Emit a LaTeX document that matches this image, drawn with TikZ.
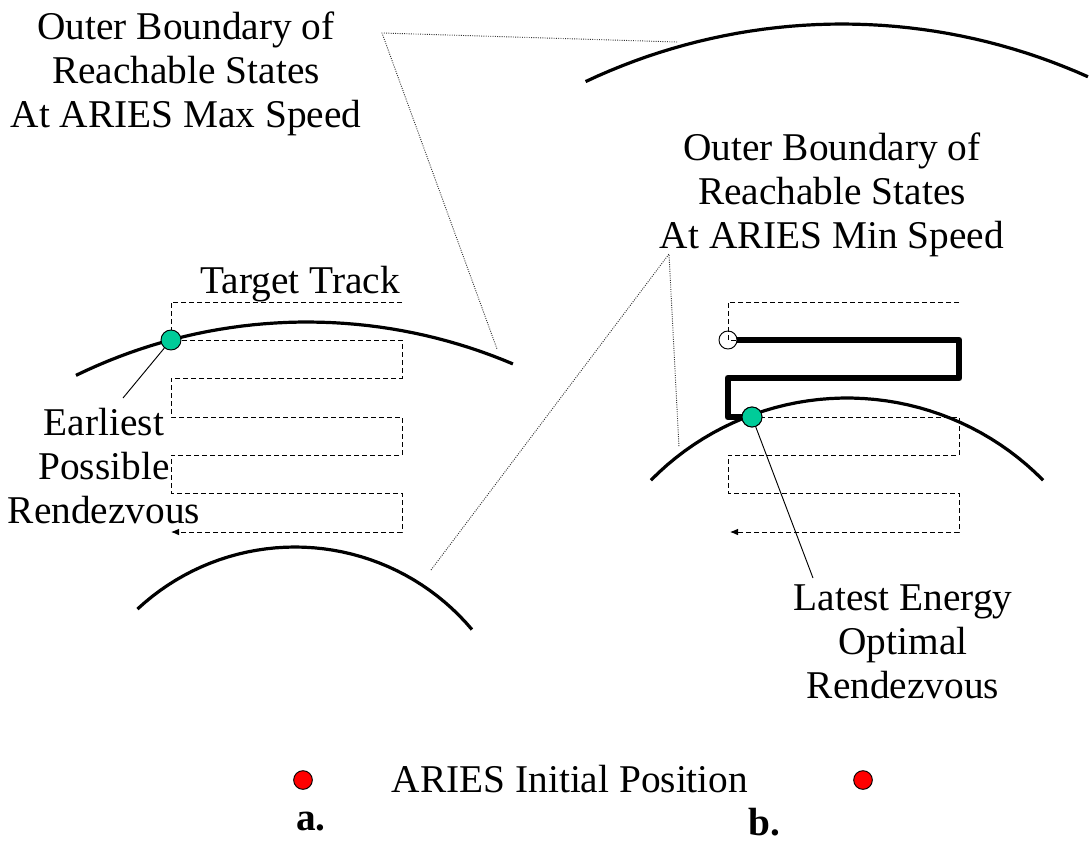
\documentclass[tikz,border=0pt]{standalone}
\usepackage{fontspec}
\setmainfont{Liberation Serif}
\usetikzlibrary{arrows.meta}
\definecolor{rdvgreen}{RGB}{0,204,153}
\definecolor{initred}{RGB}{255,0,0}
\tikzset{
  lbl/.style={font=\fontsize{29.5}{33}\selectfont, align=center, inner sep=0pt},
  bound/.style={line width=2.4pt},
  track/.style={line width=0.7pt, dash pattern=on 3.6pt off 2.4pt},
  callout/.style={line width=0.7pt, densely dotted, black!80},
  leader/.style={line width=0.7pt},
  rdv/.style={circle, draw, line width=0.7pt, fill=rdvgreen, minimum size=15pt, inner sep=0pt},
  startpt/.style={circle, draw, line width=0.7pt, minimum size=13.5pt, inner sep=0pt},
  initpos/.style={circle, draw, line width=0.7pt, fill=initred, minimum size=14pt, inner sep=0pt},
}
\begin{document}
\begin{tikzpicture}[x=0.75pt,y=-0.75pt]
\useasboundingbox (0,0) rectangle (1089,850);
% Labels
\node[lbl] (maxlbl) at (186,74) {Outer Boundary of\\Reachable States\\At ARIES Max Speed};
\node[lbl] (minlbl) at (832,195) {Outer Boundary of\\Reachable States\\At ARIES Min Speed};
\node[lbl] (tgtlbl) at (300,284) {Target Track};
\node[lbl] (earliest) at (104,466) {Earliest\\Possible\\Rendezvous};
\node[lbl] (latest) at (903,642) {Latest Energy\\Optimal\\Rendezvous};
\node[lbl] (initlbl) at (570,779) {ARIES Initial Position};
\node[lbl, font=\fontsize{29.5}{33}\selectfont\bfseries] (lbla) at (311,822) {a.};
\node[lbl, font=\fontsize{29.5}{33}\selectfont\bfseries] (lblb) at (764,822) {b.};

% Reachable boundaries
\draw[bound] plot[domain=-116:-67, samples=40] ({307+527*cos(\x)}, {849+527*sin(\x)});
\draw[bound] plot[domain=-133:-40, samples=40] ({295+231*cos(\x)}, {778+231*sin(\x)});
\draw[bound] plot[domain=-115.3:-65.8, samples=40] ({842+600*cos(\x)}, {624+600*sin(\x)});
\draw[bound] plot[domain=-135.5:-44.5, samples=40] ({847+275*cos(\x)}, {673+275*sin(\x)});

% Callouts
\coordinate (maxapex) at (382,33);
\coordinate (maxtipb) at (677,42);
\coordinate (maxtipa) at (497,349);
\coordinate (minapex) at (669,254);
\coordinate (mintipa) at (431,570);
\coordinate (mintipb) at (679,447);
\draw[callout] (maxtipb) -- (maxapex) -- (maxtipa);
\draw[callout] (mintipa) -- (minapex) -- (mintipb);

% Target track, a.
\draw[track, -{Latex[length=6pt,width=5pt]}] (402,302) -- (171,302) -- (171,340) -- (402,340) -- (402,378) -- (171,378) -- (171,417) -- (402,417) -- (402,455) -- (171,455) -- (171,493) -- (402,493) -- (402,532) -- (171,532);
% Target track, b.
\draw[track, -{Latex[length=6pt,width=5pt]}] (959,302) -- (728,302) -- (728,340) -- (959,340) -- (959,378) -- (728,378) -- (728,417) -- (959,417) -- (959,455) -- (728,455) -- (728,493) -- (959,493) -- (959,532) -- (730,532);

% Rendezvous points
\node[rdv] (rdva) at (171,340) {};
\node[startpt] (startb) at (728,340) {};
\node[rdv] (rdvb) at (752,417) {};
\draw[line width=5pt, line join=round] (startb.east) -- (959,340) -- (959,378) -- (728,378) -- (728,417) -- (rdvb.west);
\node[rdv] at (rdvb) {};

\coordinate (eaend) at (123,398);
\coordinate (ltend) at (813,578);
\draw[leader] (rdva) -- (eaend);
\draw[leader] (rdvb) -- (ltend);

% Initial positions
\node[initpos] (inita) at (303,780) {};
\node[initpos] (initb) at (863,780) {};
\end{tikzpicture}
\end{document}
